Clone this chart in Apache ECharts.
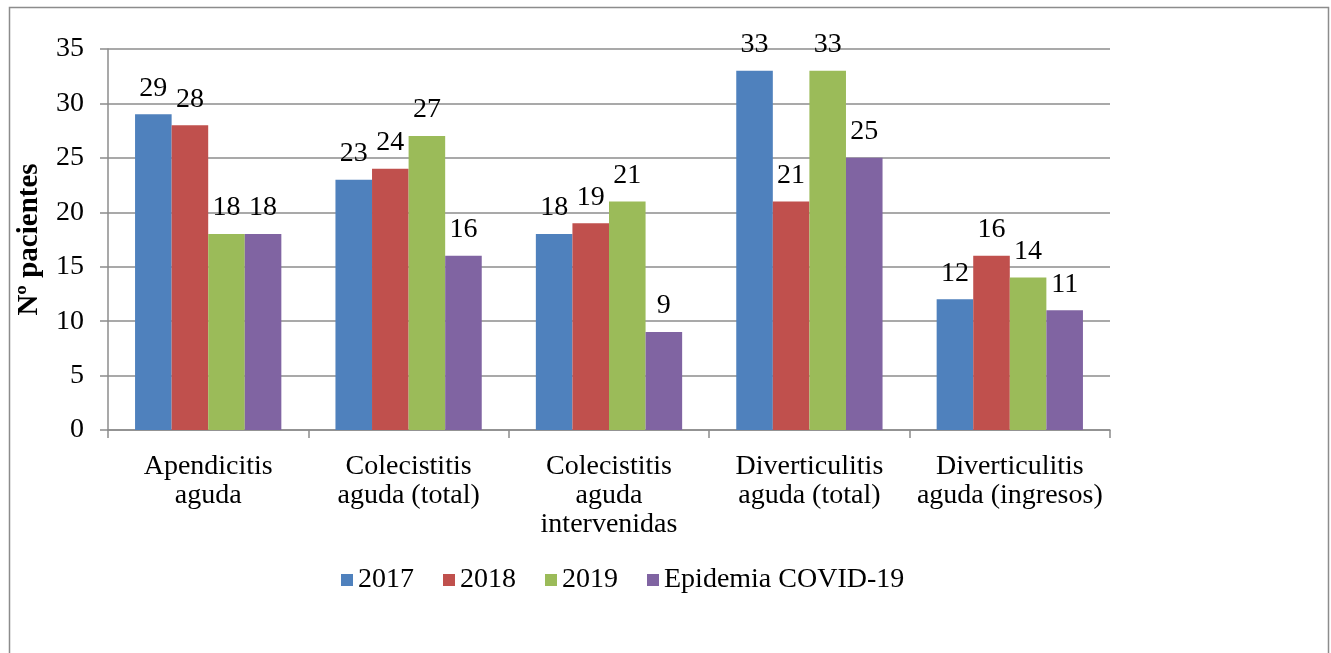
<!DOCTYPE html>
<html>
<head>
<meta charset="utf-8">
<script src="https://cdn.jsdelivr.net/npm/echarts@6/dist/echarts.min.js"></script>
<style>
html,body{margin:0;padding:0;background:#fff;}
#chart{width:1331px;height:653px;}
</style>
</head>
<body>
<div id="chart"></div>
<script>
const categories = ['Apendicitis\naguda', 'Colecistitis\naguda (total)', 'Colecistitis\naguda\nintervenidas', 'Diverticulitis\naguda (total)', 'Diverticulitis\naguda (ingresos)'];
const seriesNames = ['2017', '2018', '2019', 'Epidemia COVID-19'];
const values2017 = [29, 23, 18, 33, 12];
const values2018 = [28, 24, 19, 21, 16];
const values2019 = [18, 27, 21, 33, 14];
const valuesCovid = [18, 16, 9, 25, 11];
const colors = ['#4F81BD', '#C0504D', '#9BBB59', '#8064A2'];
const yTitle = 'Nº pacientes';

const FONT = '"Liberation Serif", "Times New Roman", serif';
const chart = echarts.init(document.getElementById('chart'));
const allValues = [values2017, values2018, values2019, valuesCovid];
chart.setOption({
  animation: false,
  backgroundColor: '#fff',
  graphic: [{
    type: 'rect',
    shape: { x: 9.5, y: 7.5, width: 1319, height: 660 },
    style: { fill: 'none', stroke: '#8c8c8c', lineWidth: 1.5 },
    silent: true
  }],
  grid: { left: 108, right: 221, top: 49, bottom: 223, containLabel: false },
  legend: {
    data: seriesNames,
    left: 336,
    top: 561,
    icon: 'rect',
    itemWidth: 12,
    itemHeight: 12,
    itemGap: 29,
    textStyle: { fontFamily: FONT, fontSize: 28, color: '#000' }
  },
  xAxis: {
    type: 'category',
    data: categories,
    axisLine: { lineStyle: { color: '#8c8c8c', width: 1.5 } },
    axisTick: { show: true, length: 8, lineStyle: { color: '#8c8c8c', width: 1.5 } },
    axisLabel: { fontFamily: FONT, fontSize: 28, color: '#000', lineHeight: 29, margin: 22, interval: 0 }
  },
  yAxis: {
    type: 'value',
    min: 0, max: 35, interval: 5,
    name: yTitle,
    nameLocation: 'middle',
    nameGap: 64,
    nameTextStyle: { fontFamily: FONT, fontSize: 29, fontWeight: 'bold', color: '#000' },
    axisLine: { show: true, lineStyle: { color: '#8c8c8c', width: 1.5 } },
    axisTick: { show: true, length: 8, lineStyle: { color: '#8c8c8c', width: 1.5 } },
    axisLabel: { fontFamily: FONT, fontSize: 28, color: '#000', margin: 24 },
    splitLine: { lineStyle: { color: '#8c8c8c', width: 1.5 } }
  },
  series: seriesNames.map((n, i) => ({
    name: n,
    type: 'bar',
    data: allValues[i],
    barGap: '0%',
    barCategoryGap: '27%',
    itemStyle: { color: colors[i] },
    label: { show: true, position: 'top', distance: 12, fontFamily: FONT, fontSize: 28, color: '#000' }
  }))
});
</script>
</body>
</html>
